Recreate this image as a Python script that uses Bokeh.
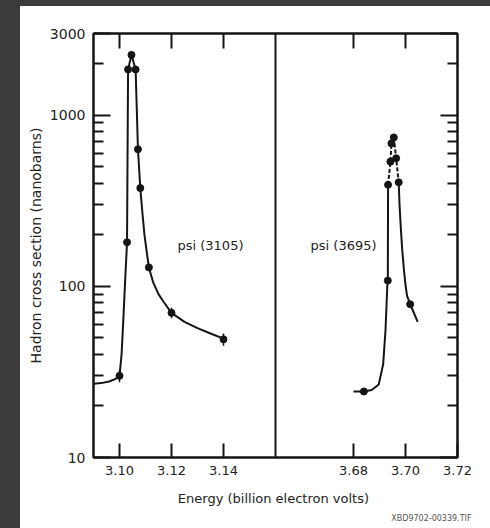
from bokeh.plotting import figure
from bokeh.models import (Range1d, LinearAxis, LogAxis, FixedTicker, CustomJSTickFormatter,
                          PrintfTickFormatter, Span, Label, Spacer, Title)
from bokeh.layouts import row, column
from bokeh.embed import file_html
from bokeh.resources import INLINE

# ---- data ----
left_lim = (3.09, 3.16)
right_lim = (3.65, 3.72)
y_lim = (10, 3000)

left_ticks = [3.10, 3.12, 3.14]
right_ticks = [3.68, 3.70, 3.72]
x_tick_labels = ["3.10", "3.12", "3.14", "3.68", "3.70", "3.72"]
y_major = [10, 100, 1000, 3000]
y_minor = [20, 30, 40, 50, 60, 70, 80, 90, 200, 300, 400, 500, 600, 700, 800, 900, 2000]

# measured points, psi(3105)
left_x = [3.1000, 3.1029, 3.1033, 3.1046, 3.1062, 3.1071, 3.1080, 3.1113, 3.1200, 3.1400]
left_y = [30, 181, 1850, 2250, 1850, 632, 375, 129, 70, 49]
left_err = [2.5, 0, 0, 0, 0, 0, 0, 6, 5, 4]

# measured points, psi(3695)
right_x = [3.6840, 3.6932, 3.6933, 3.6942, 3.6946, 3.6955, 3.6964, 3.6974, 3.7018]
right_y = [24.3, 108, 392, 535, 684, 741, 560, 405, 78.6]

# hand-drawn curve through psi(3105)
lc_x = [3.0900, 3.0930, 3.0960, 3.0985, 3.1000, 3.1008, 3.1015, 3.1022, 3.1029, 3.1031,
        3.1033, 3.1046, 3.1062, 3.1071, 3.1080, 3.1088, 3.1096, 3.1105, 3.1113, 3.1130,
        3.1150, 3.1170, 3.1200, 3.1250, 3.1300, 3.1350, 3.1400]
lc_y = [27, 27.2, 27.8, 28.8, 30, 40, 65, 110, 181, 600,
        1850, 2250, 1850, 632, 375, 270, 200, 158, 129, 105,
        90, 81, 70, 62, 57, 53, 49.5]

# hand-drawn curve through psi(3695): solid rise, dashed top, solid fall
rc_x = [3.6800, 3.6840, 3.6870, 3.6897, 3.6914, 3.6923, 3.6930, 3.6932, 3.6933]
rc_y = [24.3, 24.3, 24.8, 26.7, 35, 55, 100, 108, 392]
rd_x = [3.6933, 3.6942, 3.6946, 3.6955, 3.6964, 3.6974]
rd_y = [392, 535, 684, 741, 560, 405]
re_x = [3.6974, 3.6977, 3.6982, 3.6987, 3.6994, 3.7000, 3.7006, 3.7018, 3.7047]
re_y = [405, 300, 220, 166, 125, 102, 88, 78.6, 62]

# ---- figure ----
FONT = "DejaVu Sans"
INK = "#151515"
span = left_lim[1] - left_lim[0]

p = figure(width=470, height=522, y_axis_type="log",
           x_range=Range1d(left_lim[0], left_lim[1] + span),
           y_range=Range1d(*y_lim),
           output_backend="svg", toolbar_location=None,
           min_border_left=73, min_border_right=33, min_border_top=27, min_border_bottom=71,
           background_fill_color="white", border_fill_color="white")
p.extra_x_ranges = {"r": Range1d(right_lim[0] - span, right_lim[1])}
p.grid.visible = False
p.outline_line_color = INK
p.outline_line_width = 2

x_pos = left_ticks + [round(t - right_lim[0] + left_lim[1], 4) for t in right_ticks]
fmt = CustomJSTickFormatter(args=dict(pos=x_pos, labels=x_tick_labels), code="""
let b = 0;
for (let i = 1; i < pos.length; i++) {
  if (Math.abs(pos[i] - tick) < Math.abs(pos[b] - tick)) b = i;
}
return labels[b];
""")

xa = p.xaxis[0]
xa.ticker = FixedTicker(ticks=x_pos)
xa.formatter = fmt
xa.major_tick_in = 14
xa.major_tick_out = 0
xa.major_tick_line_width = 2
xa.axis_line_width = 2
xa.axis_line_color = INK
xa.major_tick_line_color = INK
xa.major_label_standoff = 8
xa.major_label_text_font = FONT
xa.major_label_text_font_size = "13px"
xa.major_label_text_color = "#222"
xa.axis_label = "Energy  (billion electron volts)"
xa.axis_label_text_font = FONT
xa.axis_label_text_font_size = "13px"
xa.axis_label_text_font_style = "normal"
xa.axis_label_text_color = "#222"
xa.axis_label_standoff = 13

ya = p.yaxis[0]
ya.ticker = FixedTicker(ticks=y_major, minor_ticks=y_minor)
ya.formatter = PrintfTickFormatter(format="%d")
ya.major_tick_in = 17
ya.major_tick_out = 0
ya.minor_tick_in = 10
ya.minor_tick_out = 0
ya.major_tick_line_width = 2
ya.minor_tick_line_width = 2
ya.axis_line_width = 2
ya.axis_line_color = INK
ya.major_tick_line_color = INK
ya.minor_tick_line_color = INK
ya.major_label_standoff = 8
ya.major_label_text_font = FONT
ya.major_label_text_font_size = "14px"
ya.major_label_text_color = "#222"
ya.axis_label = "Hadron cross section (nanobarns)"
ya.axis_label_text_font = FONT
ya.axis_label_text_font_size = "14px"
ya.axis_label_text_font_style = "normal"
ya.axis_label_text_color = "#222"
ya.axis_label_standoff = 3

top = LinearAxis(ticker=FixedTicker(ticks=x_pos[:-1]),
                 major_tick_in=15, major_tick_out=0, major_tick_line_width=2,
                 axis_line_width=2, axis_line_color=INK, major_tick_line_color=INK,
                 major_label_text_alpha=0, major_label_text_font_size="1px")
p.add_layout(top, "above")

right = LogAxis(ticker=FixedTicker(ticks=y_major, minor_ticks=y_minor),
                major_tick_in=17, major_tick_out=0, minor_tick_in=10, minor_tick_out=0,
                major_tick_line_width=2, minor_tick_line_width=2,
                axis_line_width=2, axis_line_color=INK,
                major_tick_line_color=INK, minor_tick_line_color=INK,
                major_label_text_alpha=0, major_label_text_font_size="1px")
p.add_layout(right, "right")

p.add_layout(Span(location=left_lim[1], dimension="height", line_color=INK, line_width=2))

# curves
p.line(lc_x, lc_y, line_color=INK, line_width=2)
p.line(rc_x, rc_y, line_color=INK, line_width=2, x_range_name="r")
p.line(rd_x, rd_y, line_color=INK, line_width=2, line_dash="4 2", x_range_name="r")
p.line(re_x, re_y, line_color=INK, line_width=2, x_range_name="r")

# error bars
p.segment(x0=left_x, y0=[y - e for y, e in zip(left_y, left_err)],
          x1=left_x, y1=[y + e for y, e in zip(left_y, left_err)],
          line_color=INK, line_width=1.5)

# points
p.scatter(left_x, left_y, size=7, color=INK)
p.scatter(right_x, right_y, size=7, color=INK, x_range_name="r")

p.add_layout(Label(x=3.1223, y=173, text="psi (3105)", text_font=FONT, text_font_size="13px",
                   text_color="#222", text_baseline="middle"))
p.add_layout(Label(x=3.6635, y=173, text="psi (3695)", text_font=FONT, text_font_size="13px",
                   text_color="#222", text_baseline="middle", x_range_name="r"))
p.add_layout(Title(text="XBD9702-00339.TIF", align="right", offset=-14, standoff=6,
                   text_font=FONT, text_font_size="8px", text_color="#555",
                   text_font_style="normal"), "below")

DARK = "#3b3b3b"
top_strip = Spacer(width=490, height=6, styles={"background-color": DARK})
left_strip = Spacer(width=20, height=522, styles={"background-color": DARK})
layout = column(top_strip, row(left_strip, p, spacing=0), spacing=0)

open("out.html", "w").write(file_html(layout, INLINE))
